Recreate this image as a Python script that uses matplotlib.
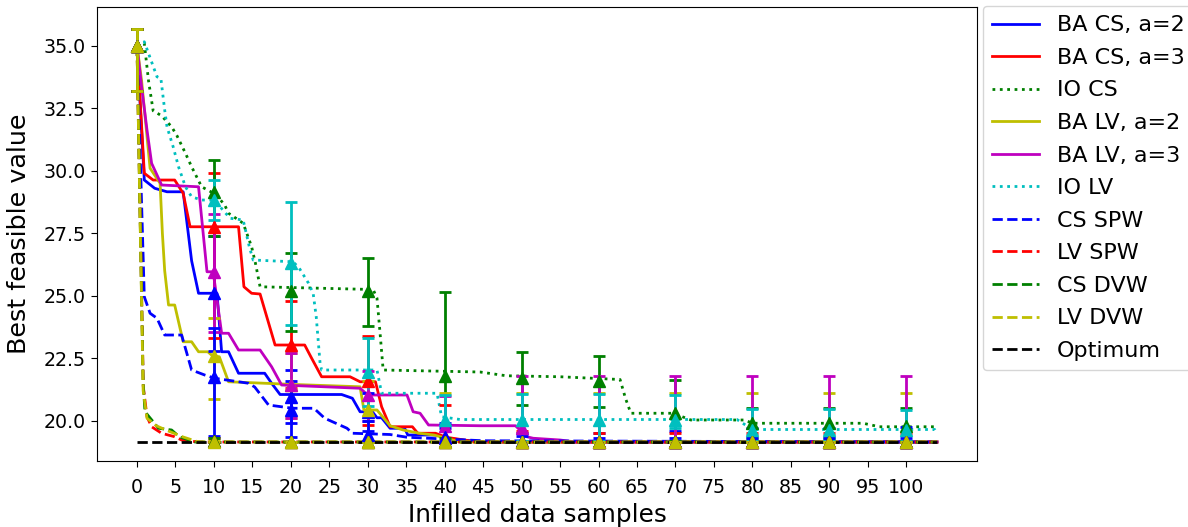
import numpy as np
import matplotlib
matplotlib.use("Agg")
import matplotlib.pyplot as plt

# ---- convergence curves (x = number of infilled samples, y = best feasible value) ----
ba_cs2_x = [0, 0.95, 2.3, 3.9, 6.0, 7.1, 8.0, 10.4, 11.0, 11.9, 13.2, 16.6, 17.5, 18.6,
            26.6, 28.0, 29.0, 30.6, 31.2, 31.8, 32.9, 34.8, 35.2, 39.0, 40.2, 45.0, 104]
ba_cs2_y = [35.0, 29.63, 29.3, 29.16, 29.16, 26.4, 25.1, 25.1, 22.76, 22.76, 21.9, 21.9, 21.5, 21.05,
            21.05, 20.9, 20.36, 20.36, 20.12, 20.12, 19.7, 19.7, 19.43, 19.43, 19.3, 19.15, 19.15]

ba_cs3_x = [0, 0.95, 2.1, 4.9, 6.0, 6.9, 13.2, 13.9, 14.9, 16.0, 17.95, 21.8, 22.6, 24.0,
            27.7, 29.0, 31.0, 31.8, 32.9, 35.8, 36.5, 38.8, 40.2, 41.9, 44.0, 104]
ba_cs3_y = [35.0, 29.9, 29.63, 29.63, 29.1, 27.76, 27.76, 25.36, 25.1, 25.07, 23.03, 23.03, 22.56, 21.76,
            21.76, 21.56, 21.56, 20.56, 19.76, 19.76, 19.5, 19.5, 19.34, 19.26, 19.15, 19.15]

io_cs_x = [0, 0.95, 1.5, 2.1, 3.2, 4.5, 5.2, 6.3, 7.1, 8.4, 9.6, 10.4, 11.4, 11.9, 13.2, 13.8,
           14.9, 15.4, 16.0, 30.7, 31.2, 31.6, 32.0, 44.6, 48.0, 55.0, 62.8, 63.5, 64.2, 69.7,
           72.0, 79.0, 80.0, 94.4, 96.5, 104]
io_cs_y = [35.0, 35.1, 33.6, 32.4, 32.2, 31.76, 31.4, 30.7, 30.16, 29.36, 29.16, 29.0, 28.63, 28.3, 28.03, 27.9,
           26.96, 26.3, 25.36, 25.25, 24.9, 23.5, 22.03, 21.95, 21.8, 21.76, 21.65, 20.9, 20.3, 20.3,
           20.03, 20.03, 19.9, 19.9, 19.76, 19.76]

ba_lv2_x = [0, 0.6, 1.7, 3.0, 3.3, 3.6, 4.1, 4.9, 6.0, 7.1, 8.0, 9.2, 9.8, 10.7, 11.9,
            20.5, 29.0, 29.5, 31.2, 32.9, 34.6, 36.7, 38.6, 42.0, 104]
ba_lv2_y = [35.0, 33.6, 30.1, 29.5, 27.5, 26.0, 24.63, 24.63, 23.16, 23.16, 22.76, 22.76, 22.6, 22.56, 21.56,
            21.45, 21.36, 20.43, 20.43, 19.8, 19.63, 19.5, 19.43, 19.15, 19.15]

ba_lv3_x = [0, 0.6, 1.3, 1.9, 3.2, 8.0, 9.1, 9.9, 11.0, 11.9, 13.2, 16.0, 17.5, 18.8, 29.0, 30.0,
            35.1, 35.9, 36.8, 37.9, 44.6, 49.2, 50.7, 51.5, 55.0, 57.0, 104]
ba_lv3_y = [35.0, 33.36, 31.63, 30.3, 29.43, 29.36, 25.96, 25.96, 23.5, 23.5, 22.83, 22.83, 22.16, 21.43, 21.3, 21.03,
            21.03, 20.36, 20.3, 19.83, 19.8, 19.8, 19.36, 19.3, 19.23, 19.15, 19.15]

io_lv_x = [0, 0.95, 2.6, 3.1, 3.6, 3.9, 4.7, 5.4, 6.3, 7.1, 8.4, 10.0, 10.8, 12.1, 13.8, 14.2,
           14.6, 15.1, 20.3, 21.1, 22.3, 22.9, 23.3, 23.8, 24.0, 31.2, 31.8, 39.0, 39.6, 42.0,
           78.0, 80.0, 103.7, 104]
io_lv_y = [35.0, 35.16, 33.76, 33.7, 32.43, 31.76, 30.96, 30.16, 29.36, 28.96, 28.83, 28.83, 28.56, 28.1, 28.03, 27.5,
           26.96, 26.43, 26.36, 26.1, 25.5, 25.1, 24.16, 22.3, 22.03, 22.03, 21.1, 21.1, 20.16, 20.05,
           20.05, 19.65, 19.65, 19.47]

cs_spw_x = [0, 0.95, 1.7, 2.6, 3.6, 5.8, 7.1, 8.8, 10.1, 14.5, 15.3, 17.1, 20.2, 23.0, 24.4,
            27.3, 28.0, 32.9, 35.1, 45.0, 104]
cs_spw_y = [35.0, 24.96, 24.3, 24.1, 23.43, 23.43, 22.03, 21.83, 21.7, 21.5, 21.35, 20.63, 20.5, 20.5, 20.1,
            19.7, 19.5, 19.45, 19.34, 19.2, 19.15]

lv_spw_x = [0, 0.82, 1.3, 1.9, 3.2, 4.9, 5.8, 8.0, 104]
lv_spw_y = [35.0, 21.36, 20.16, 19.76, 19.5, 19.36, 19.23, 19.15, 19.15]

cs_dvw_x = [0, 0.8, 1.04, 2.8, 4.5, 5.5, 7.5, 104]
cs_dvw_y = [35.0, 21.5, 20.36, 19.7, 19.63, 19.36, 19.15, 19.15]

lv_dvw_x = [0, 0.8, 1.3, 2.5, 4.0, 6.0, 8.0, 104]
lv_dvw_y = [35.0, 21.2, 20.1, 19.8, 19.6, 19.35, 19.15, 19.15]

optimum_x = [0, 104]
optimum_y = [19.15, 19.15]

# ---- statistics every 10 samples: mean, lower and upper bound ----
eval_x = [0, 10, 20, 30, 40, 50, 60, 70, 80, 90, 100]

ba_cs2_mean = [35.0, 25.1, 20.96, 20.36, 19.3, 19.15, 19.15, 19.15, 19.15, 19.15, 19.15]
ba_cs2_lo = [33.2, 22.8, 19.9, 19.6, 19.15, 19.15, 19.15, 19.15, 19.15, 19.15, 19.15]
ba_cs2_hi = [35.67, 27.4, 22.03, 21.1, 19.9, 19.5, 19.5, 19.6, 19.7, 19.7, 19.76]

ba_cs3_mean = [35.0, 27.76, 23.03, 21.6, 19.34, 19.15, 19.15, 19.15, 19.15, 19.15, 19.15]
ba_cs3_lo = [33.2, 23.32, 21.3, 19.83, 19.15, 19.15, 19.15, 19.15, 19.15, 19.15, 19.15]
ba_cs3_hi = [35.67, 29.92, 24.8, 23.4, 20.63, 19.6, 19.5, 19.5, 19.5, 19.5, 19.5]

io_cs_mean = [35.0, 29.16, 25.2, 25.2, 21.8, 21.7, 21.6, 20.3, 19.9, 19.9, 19.8]
io_cs_lo = [33.2, 27.4, 23.6, 23.8, 19.3, 20.64, 20.56, 19.2, 19.3, 19.3, 19.2]
io_cs_hi = [35.67, 30.43, 26.72, 26.53, 25.16, 22.76, 22.59, 21.63, 20.5, 20.5, 20.52]

ba_lv2_mean = [35.0, 22.6, 21.45, 20.43, 19.2, 19.15, 19.15, 19.15, 19.15, 19.15, 19.15]
ba_lv2_lo = [33.2, 20.87, 20.1, 19.2, 19.15, 19.15, 19.15, 19.15, 19.15, 19.15, 19.15]
ba_lv2_hi = [35.67, 24.13, 22.7, 21.6, 21.1, 21.1, 21.1, 21.1, 21.13, 21.13, 21.13]

ba_lv3_mean = [35.0, 25.96, 21.43, 21.03, 19.8, 19.7, 19.15, 19.15, 19.15, 19.15, 19.15]
ba_lv3_lo = [33.2, 23.54, 20.1, 20.0, 19.2, 19.15, 19.15, 19.15, 19.15, 19.15, 19.15]
ba_lv3_hi = [35.67, 28.26, 22.7, 22.0, 21.0, 21.79, 21.79, 21.79, 21.79, 21.79, 21.79]

io_lv_mean = [35.0, 28.83, 26.3, 21.96, 20.05, 20.05, 20.05, 20.05, 19.65, 19.65, 19.65]
io_lv_lo = [33.2, 28.03, 23.84, 20.6, 19.2, 19.2, 19.2, 19.7, 19.2, 19.2, 19.2]
io_lv_hi = [35.67, 29.63, 28.76, 23.32, 21.03, 21.07, 21.07, 21.05, 20.47, 20.47, 20.45]

cs_spw_mean = [35.0, 21.76, 20.43, 19.45, 19.35, 19.2, 19.15, 19.15, 19.15, 19.15, 19.15]
cs_spw_lo = [33.2, 19.39, 19.34, 19.2, 19.15, 19.15, 19.15, 19.15, 19.15, 19.15, 19.15]
cs_spw_hi = [35.67, 23.7, 21.6, 20.0, 19.7, 19.4, 19.3, 19.3, 19.3, 19.3, 19.3]

lv_spw_mean = [35.0, 19.2, 19.15, 19.15, 19.15, 19.15, 19.15, 19.15, 19.15, 19.15, 19.15]
lv_spw_lo = [33.2, 19.15, 19.15, 19.15, 19.15, 19.15, 19.15, 19.15, 19.15, 19.15, 19.15]
lv_spw_hi = [35.67, 19.3, 19.15, 19.15, 19.15, 19.15, 19.15, 19.15, 19.15, 19.15, 19.15]

cs_dvw_mean = [35.0, 19.2, 19.15, 19.15, 19.15, 19.15, 19.15, 19.15, 19.15, 19.15, 19.15]
cs_dvw_lo = [33.2, 19.15, 19.15, 19.15, 19.15, 19.15, 19.15, 19.15, 19.15, 19.15, 19.15]
cs_dvw_hi = [35.67, 19.3, 19.15, 19.15, 19.15, 19.15, 19.15, 19.15, 19.15, 19.15, 19.15]

lv_dvw_mean = [35.0, 19.15, 19.15, 19.15, 19.15, 19.15, 19.15, 19.15, 19.15, 19.15, 19.15]
lv_dvw_lo = [33.2, 19.15, 19.15, 19.15, 19.15, 19.15, 19.15, 19.15, 19.15, 19.15, 19.15]
lv_dvw_hi = [35.67, 19.2, 19.15, 19.15, 19.15, 19.15, 19.15, 19.15, 19.15, 19.15, 19.15]

labels = ["BA CS, a=2", "BA CS, a=3", "IO CS", "BA LV, a=2", "BA LV, a=3", "IO LV",
          "CS SPW", "LV SPW", "CS DVW", "LV DVW"]
colors = ["b", "r", "g", "y", "m", "c", "b", "r", "g", "y"]
styles = ["-", "-", ":", "-", "-", ":", "--", "--", "--", "--"]

curves = [(ba_cs2_x, ba_cs2_y), (ba_cs3_x, ba_cs3_y), (io_cs_x, io_cs_y),
          (ba_lv2_x, ba_lv2_y), (ba_lv3_x, ba_lv3_y), (io_lv_x, io_lv_y),
          (cs_spw_x, cs_spw_y), (lv_spw_x, lv_spw_y), (cs_dvw_x, cs_dvw_y), (lv_dvw_x, lv_dvw_y)]
stats = [(ba_cs2_mean, ba_cs2_lo, ba_cs2_hi), (ba_cs3_mean, ba_cs3_lo, ba_cs3_hi),
         (io_cs_mean, io_cs_lo, io_cs_hi), (ba_lv2_mean, ba_lv2_lo, ba_lv2_hi),
         (ba_lv3_mean, ba_lv3_lo, ba_lv3_hi), (io_lv_mean, io_lv_lo, io_lv_hi),
         (cs_spw_mean, cs_spw_lo, cs_spw_hi), (lv_spw_mean, lv_spw_lo, lv_spw_hi),
         (cs_dvw_mean, cs_dvw_lo, cs_dvw_hi), (lv_dvw_mean, lv_dvw_lo, lv_dvw_hi)]

W, H = 1188, 527
fig = plt.figure(figsize=(W / 100, H / 100), dpi=100)
ax = fig.add_axes([97 / W, 1 - 461 / H, 880 / W, 453.7 / H])

handles = []
for (cx, cy), lab, col, ls in zip(curves, labels, colors, styles):
    h, = ax.plot(cx, cy, color=col, linestyle=ls, linewidth=2, label=lab)
    handles.append(h)
h_opt, = ax.plot(optimum_x, optimum_y, color="k", linestyle="--", linewidth=2, label="Optimum")
handles.append(h_opt)

for (m, lo, hi), col in zip(stats, colors):
    m = np.asarray(m)
    yerr = np.vstack([m - np.asarray(lo), np.asarray(hi) - m])
    ax.errorbar(eval_x, m, yerr=yerr, fmt="^", color=col, markersize=9,
                elinewidth=2, capsize=4, capthick=2)

ax.set_xlim(-5.2, 109.2)
ax.set_ylim(18.39, 36.54)
ax.set_xticks(np.arange(0, 101, 5))
ax.set_yticks([20.0, 22.5, 25.0, 27.5, 30.0, 32.5, 35.0])
ax.yaxis.set_major_formatter(matplotlib.ticker.FormatStrFormatter("%.1f"))
ax.tick_params(labelsize=13.7, length=4.5)
ax.tick_params(axis="x", pad=8)
ax.set_xlabel("Infilled data samples", fontsize=17.8, labelpad=4)
ax.set_ylabel("Best feasible value", fontsize=18.3, labelpad=9)

fig.legend(handles=handles, loc="upper left", bbox_to_anchor=(983 / W, 1 - 6 / H),
           bbox_transform=fig.transFigure, borderaxespad=0, fontsize=16,
           handlelength=2.1, handletextpad=0.8, labelspacing=0.565, borderpad=0.42)

fig.savefig("out.png", dpi=100)
